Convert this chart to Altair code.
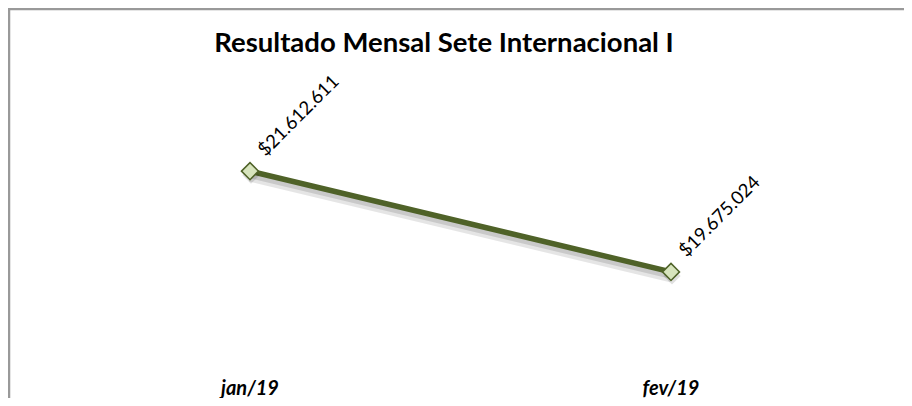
import altair as alt
import pandas as pd

months = ["jan/19", "fev/19"]
values = [21612611, 19675024]
labels = ["$" + f"{v:,}".replace(",", ".") for v in values]
title_text = "Resultado Mensal Sete Internacional I"

df = pd.DataFrame({"mes": months, "valor": values, "rotulo": labels})

W, H = 896, 390
xs = alt.Scale(type="point", domain=months, range=[242, 663], padding=0)
ys = alt.Scale(domain=[18000000, 22000000], range=[351, 143], zero=False, nice=False)

base = alt.Chart(df).encode(
    x=alt.X("mes:N", scale=xs, axis=None, sort=months),
    y=alt.Y("valor:Q", scale=ys, axis=None),
)

shadow1 = base.mark_line(color="#000000", opacity=0.10, strokeWidth=9, yOffset=6)
shadow2 = base.mark_line(color="#000000", opacity=0.12, strokeWidth=6, yOffset=4)
line = base.mark_line(color="#4F6228", strokeWidth=5.5)
pshadow = base.mark_point(shape="diamond", size=300, filled=True, fill="#000000",
                          opacity=0.12, yOffset=4, xOffset=1)
pts = base.mark_point(shape="diamond", size=290, filled=True, fill="#D7E4BD",
                      stroke="#4F6228", strokeWidth=1.5, opacity=1)
txt = base.mark_text(angle=315, align="left", baseline="middle", dx=21, dy=-5,
                     font="Lato", fontSize=18.5, color="#000000").encode(text="rotulo:N")

xlab = alt.Chart(df).mark_text(font="Lato", fontSize=20, fontWeight="bold",
                               fontStyle="italic", baseline="middle", align="center",
                               color="#000000").encode(
    x=alt.X("mes:N", scale=xs, axis=None, sort=months),
    y=alt.value(381),
    text="mes:N",
)

one = alt.Data(values=[{"t": title_text}])
title = alt.Chart(one).mark_text(font="Lato", fontSize=27.5, fontWeight="bold",
                                 baseline="alphabetic", align="center",
                                 color="#000000").encode(
    x=alt.value(436), y=alt.value(44), text="t:N")

frame_l = alt.Chart(one).mark_rule(color="#999999", strokeWidth=2.5).encode(
    x=alt.value(1), y=alt.value(0), y2=alt.value(H))
frame_t = alt.Chart(one).mark_rule(color="#999999", strokeWidth=2.5).encode(
    x=alt.value(0), x2=alt.value(W), y=alt.value(1))

chart = alt.layer(frame_l, frame_t, title, shadow1, shadow2, line, pshadow, pts, txt, xlab).properties(
    width=W, height=H, padding=0, autosize=alt.AutoSizeParams(type="none")
).configure_view(stroke="transparent")

chart.save("out.html", embed_options={"renderer": "svg", "actions": False})
